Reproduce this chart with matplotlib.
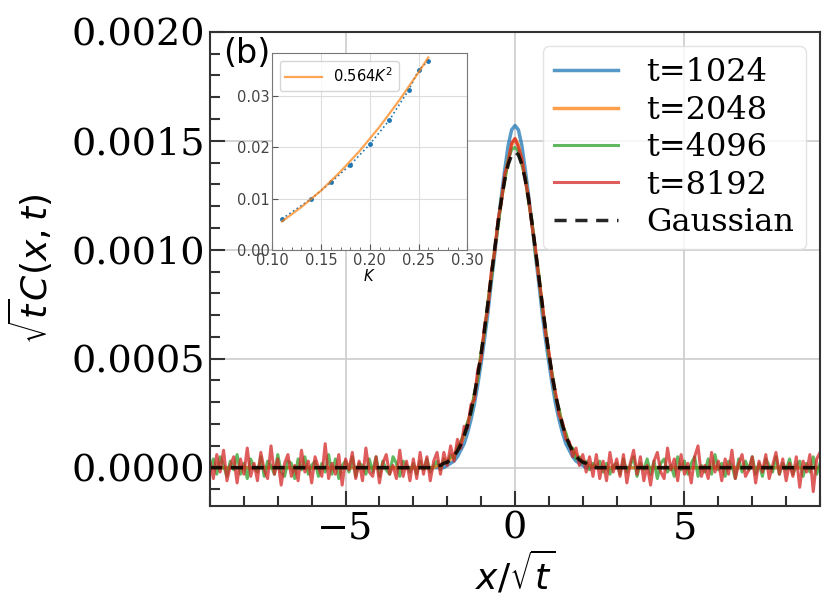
import numpy as np
import matplotlib.pyplot as plt
from matplotlib.ticker import MultipleLocator

# ---- main panel data (values in units of 1e-5) ----
x_full = np.round(np.linspace(-9, 9, 181), 1)   # sampling grid of the noisy curves
x_core = np.round(np.linspace(-3, 3, 61), 1)
x_sparse = np.concatenate([[-9.0], x_core, [9.0]])

red_e5 = [3, -5, 6, -2, 8, -6, 1, 5, -7, 4,
          -3, 9, -4, 2, -6, 7, -1, -5, 10, -3,
          4, -8, 2, 6, -4, 1, -6, 8, -2, 3,
          -7, 5, 0, -4, 11, -5, 2, -3, 6, -8,
          4, -1, 7, -5, 3, -6, 9, -2, -4, 5,
          -7, 2, 6, -3, 1, -5, 8, -4, 3, -6,
          4, -5, 7, -3, 5, -6, 3, 7, -3, 7,
          1, 10, 3, 13, 9, 19, 18, 29, 31, 45,
          50, 65, 73, 90, 99, 114, 122, 135, 140, 149,
          151,
          147, 142, 132, 124, 111, 101, 87, 76, 62, 53,
          41, 34, 24, 21, 13, 12, 5, 9, 1, 6,
          -2, 5, -4, 6, -5, 3, -6, 7, -2, 4,
          -4, 6, -7, 2, 8, -3, 5, -6, 1, -8,
          3, 7, -2, -5, 9, -1, 4, -6, 6, -3,
          2, -7, 5, 10, -4, 1, -5, 7, -2, 3,
          -6, 4, -3, 8, -5, 2, 6, -4, -1, 5,
          -7, 3, -2, 6, -5, 1, 7, -3, 4, -6,
          2, -4, 5, -9, 3, -2, 6, -11, 4, 7]

green_e5 = [-2, 4, -3, 5, 1, -4, 3, -1, 6, -3,
            2, -5, 4, 0, -2, 5, -4, 3, 1, -3,
            6, -2, -4, 3, 2, -5, 4, -1, 5, -3,
            1, 3, -4, 2, -2, 6, -3, 4, -5, 1,
            3, -2, 5, -4, 2, 1, -3, 4, -2, 5,
            -4, 3, -1, -3, 5, 2, -4, 3, 1, -2,
            2, -3, 3, -1, 4, -2, 1, 3, -1, 4,
            2, 6, 4, 10, 12, 16, 21, 25, 34, 41,
            53, 62, 76, 87, 100, 111, 123, 132, 141, 146,
            147,
            145, 139, 133, 122, 113, 99, 89, 74, 64, 51,
            43, 32, 27, 19, 16, 10, 9, 4, 5, 2,
            3, -1, 2, 0, 3, -2, 2, -3, 1, 2,
            -3, 4, -2, 1, 5, -4, 2, -1, 4, -3,
            3, -5, 2, 4, -2, 1, -4, 5, -1, 3,
            -3, 2, 5, -4, 1, -2, 4, -3, 6, -1,
            2, -4, 3, 1, -5, 4, -2, 3, -1, 5,
            -3, 2, -4, 4, 1, -2, 5, -3, 2, -1,
            4, -3, 1, 3, -4, 2, -2, 5, -3, 2]

blue_e5 = [0,
           0, 0, 0, 0, 0, 0, 0, 0, 0, 0,
           1, 2, 3, 5, 8, 11, 16, 22, 29, 38,
           48, 59, 71, 85, 98, 112, 125, 137, 148, 155,
           157,
           155, 148, 137, 125, 112, 98, 85, 71, 59, 48,
           38, 29, 22, 16, 11, 8, 5, 3, 2, 1,
           0, 0, 0, 0, 0, 0, 0, 0, 0, 0,
           0]

orange_e5 = [0,
             0, 0, 0, 0, 0, 0, 0, 1, 1, 2,
             3, 4, 6, 8, 11, 15, 20, 26, 33, 42,
             52, 63, 75, 88, 100, 112, 123, 133, 141, 148,
             151,
             148, 141, 133, 123, 112, 100, 88, 75, 63, 52,
             42, 33, 26, 20, 15, 11, 8, 6, 4, 3,
             2, 1, 1, 0, 0, 0, 0, 0, 0, 0,
             0]

gauss_e5 = [0,
            0, 0, 0, 0, 0, 0, 0, 1, 1, 2,
            2.5, 3.6, 5.3, 7.6, 10.6, 14.6, 19.6, 25.9, 33.4, 42.2,
            52.3, 63.4, 75.5, 87.9, 100.4, 112.4, 123.2, 132.3, 139.2, 143.5,
            145,
            143.5, 139.2, 132.3, 123.2, 112.4, 100.4, 87.9, 75.5, 63.4, 52.3,
            42.2, 33.4, 25.9, 19.6, 14.6, 10.6, 7.6, 5.3, 3.6, 2.5,
            2, 1, 1, 0, 0, 0, 0, 0, 0, 0,
            0]

labels = ['t=1024', 't=2048', 't=4096', 't=8192']

# ---- inset data ----
K_pts = [0.11, 0.14, 0.16, 0.18, 0.20, 0.22, 0.24, 0.25, 0.26]
amp_pts = [0.0061, 0.0100, 0.0132, 0.0166, 0.0206, 0.0253, 0.0312, 0.0350, 0.0369]
K_fit = [0.11, 0.13, 0.15, 0.17, 0.19, 0.21, 0.23, 0.25, 0.26]
amp_fit = [0.0056, 0.0084, 0.0116, 0.0153, 0.0194, 0.0240, 0.0291, 0.0346, 0.0375]

fig = plt.figure(figsize=(8.3, 6), dpi=100)
ax = fig.add_axes([0.253, 0.157, 0.735, 0.790])

sc = 1e-5
ax.plot(x_sparse, np.array(blue_e5) * sc, color='tab:blue', lw=2.5, alpha=0.75, label=labels[0])
ax.plot(x_sparse, np.array(orange_e5) * sc, color='tab:orange', lw=2.5, alpha=0.75, label=labels[1])
ax.plot(x_full, np.array(green_e5) * sc, color='tab:green', lw=2.2, alpha=0.75, label=labels[2])
ax.plot(x_full, np.array(red_e5) * sc, color='tab:red', lw=2.2, alpha=0.75, label=labels[3])
ax.plot(x_sparse, np.array(gauss_e5) * sc, color='black', ls='--', lw=2.5, alpha=0.85,
        dashes=(3.5, 2.5), label='Gaussian')

ax.set_xlim(-9, 9)
ax.set_ylim(-0.000175, 0.002)
ax.xaxis.set_major_locator(MultipleLocator(5))
ax.xaxis.set_minor_locator(MultipleLocator(1))
ax.yaxis.set_major_locator(MultipleLocator(0.0005))
ax.yaxis.set_minor_locator(MultipleLocator(0.0001))
ax.tick_params(which='both', direction='in', width=1.5, color='#333333')
ax.tick_params(which='major', length=11, labelsize=27.5)
ax.tick_params(which='minor', length=7)
for lab in ax.get_xticklabels() + ax.get_yticklabels():
    lab.set_family('DejaVu Serif')
for s in ax.spines.values():
    s.set_linewidth(1.5)
    s.set_color('#333333')
ax.grid(True, color='#cccccc', lw=1.2)
ax.set_xlabel(r'$x/\sqrt{t}$', fontsize=26, labelpad=2)
ax.set_ylabel(r'$\sqrt{t}C(x,t)$', fontsize=26, labelpad=12)
ax.text(0.022, 0.99, '(b)', transform=ax.transAxes, fontsize=24, va='top', ha='left')

leg = ax.legend(loc='upper right', prop={'family': 'DejaVu Serif', 'size': 23},
                handlelength=2.0, handletextpad=0.9, labelspacing=0.2,
                borderpad=0.35, borderaxespad=0.45, fancybox=True)
leg.get_frame().set_edgecolor('#dddddd')

# ---- inset ----
ins = fig.add_axes([0.328, 0.583, 0.235, 0.328])
ins.plot(K_pts, amp_pts, ls=':', marker='.', ms=5, color='tab:blue', lw=1.2)
ins.plot(K_fit, amp_fit, color='tab:orange', lw=1.6, alpha=0.7, label=r'$0.564K^2$')
ins.set_xlim(0.1, 0.3)
ins.set_ylim(0, 0.0383)
ins.xaxis.set_major_locator(MultipleLocator(0.05))
ins.xaxis.set_minor_locator(MultipleLocator(0.01))
ins.yaxis.set_major_locator(MultipleLocator(0.01))
ins.tick_params(which='both', direction='in', color='#555555', labelcolor='#444444', pad=2)
ins.tick_params(which='major', length=4, labelsize=10.5)
ins.tick_params(which='minor', length=2)
for s in ins.spines.values():
    s.set_color('#777777')
ins.grid(True, color='#dddddd', lw=0.8)
ins.set_xlabel(r'$K$', fontsize=10.5, labelpad=0)
ins.legend(loc='upper left', fontsize=10.5, handlelength=2.5)

fig.savefig('out.png', dpi=100)
